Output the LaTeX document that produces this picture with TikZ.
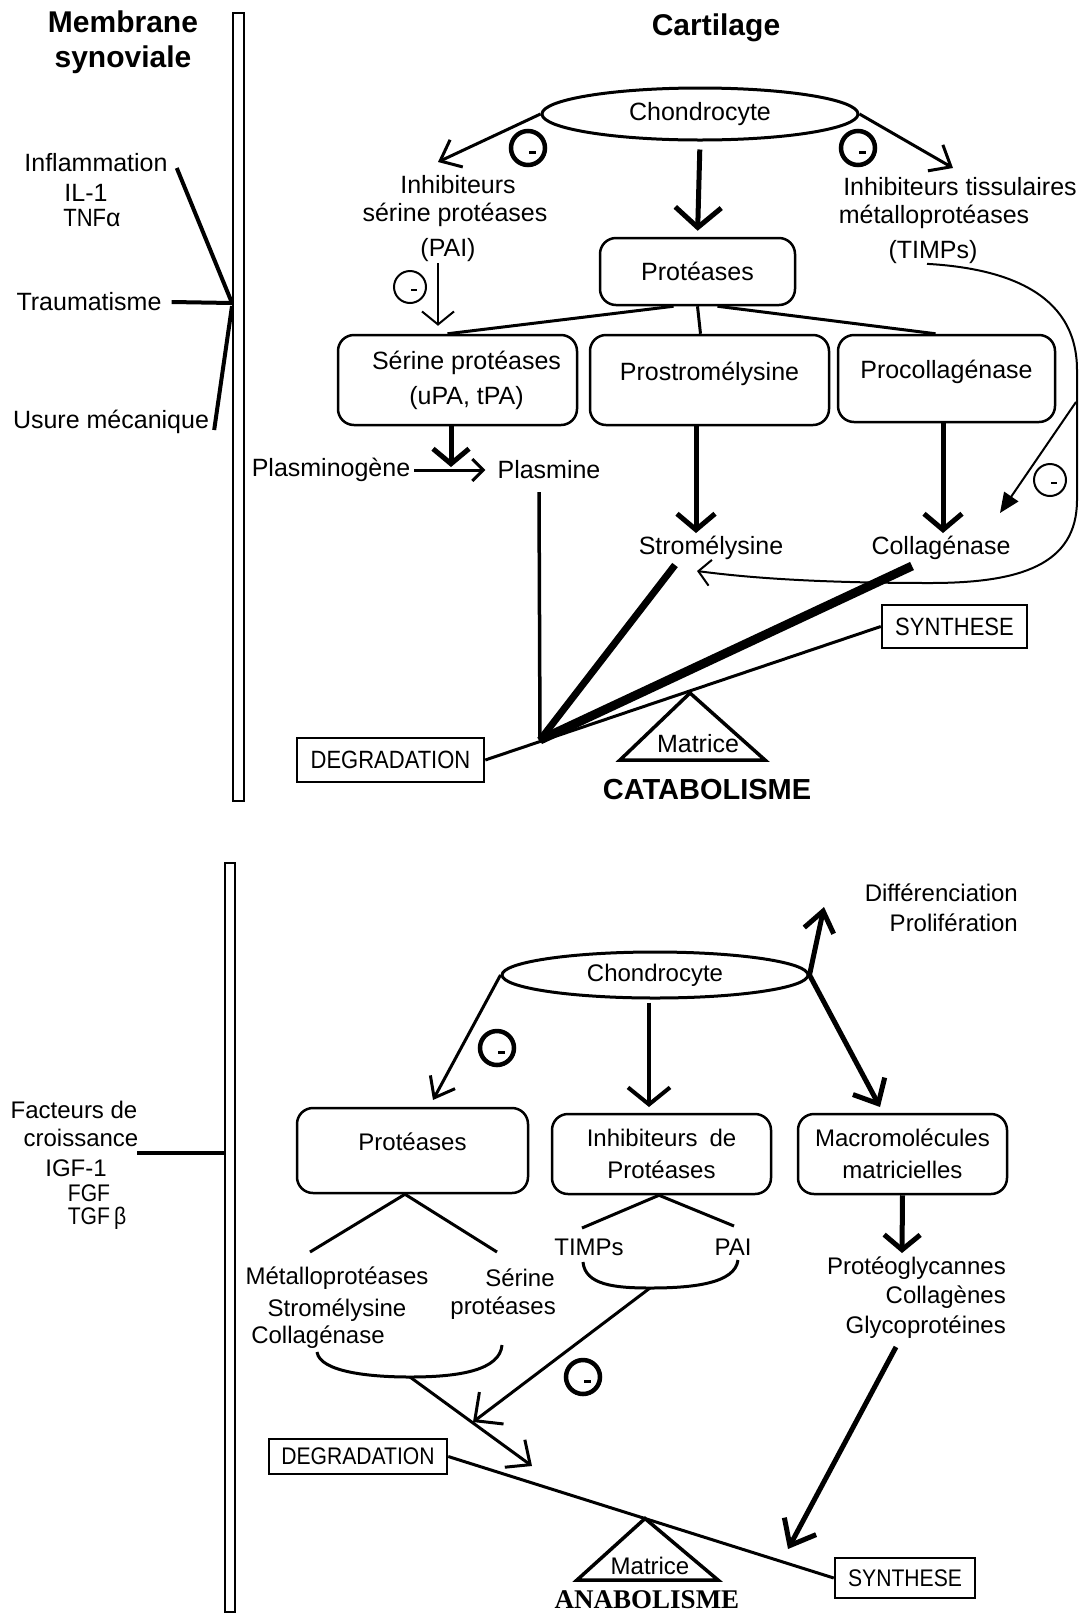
\documentclass[tikz,border=0pt]{standalone}
\usepackage{fontspec}
\setmainfont{Liberation Sans}
\newfontfamily\serifbold{Liberation Serif}
\newfontfamily\condf[FakeStretch=0.88]{Liberation Sans}
\usetikzlibrary{arrows.meta,shapes.geometric}
\begin{document}
\begin{tikzpicture}[x=1pt,y=-1pt,
  every node/.style={inner sep=0pt, font=\fontsize{25}{30}\selectfont},
  sm/.style={font=\fontsize{24}{30}\selectfont},
  ttl/.style={font=\fontsize{30}{35}\selectfont\bfseries, align=center},
  rbox/.style={draw, line width=2.5pt, rounded corners=16pt, align=center},
  sbox/.style={draw, line width=2.5pt},
  ell/.style={ellipse, draw, line width=3pt},
  neg/.style={circle, draw, line width=4.5pt, minimum size=34pt,
     path picture={\draw[line width=3pt] ([shift={(1pt,-4pt)}]path picture bounding box.center) -- ++(7pt,0);}},
  negt/.style={circle, draw, line width=2pt, minimum size=32pt,
     path picture={\draw[line width=2pt] ([shift={(1pt,-3pt)}]path picture bounding box.center) -- ++(6pt,0);}},
  lw2/.style={line width=2pt}, lw3/.style={line width=3pt},
  lw4/.style={line width=4pt}, lw5/.style={line width=5pt},
  arF/.style={-{Triangle[length=20pt,width=17pt]}}
]
\useasboundingbox (0,0) rectangle (1086,1615);
\fill[white] (0,0) rectangle (1086,1615);

% ================= TOP (CATABOLISME) =================
\node[ttl] (memb) at (123,42) {Membrane\\synoviale};
\node[ttl] (cart) at (716,28) {Cartilage};

\node[draw, line width=2pt, minimum width=11pt, minimum height=788pt] (bar1) at (238.5,407) {};

\node (infl) at (96,163) {Inflammation};
\node (il1) at (86,193) {IL-1};
\node (tnf) at (92,218) {{\condf TNF}α};
\node (trau) at (89,302) {Traumatisme};
\node (usur) at (111,422) {Usure mécanique};

\coordinate (j1) at (bar1.west |- 0,303);
\draw[lw4] ([shift={(9pt,-5pt)}]infl.east) -- (j1);
\draw[lw4] ([xshift=10pt]trau.east) -- (j1);
\draw[lw4] ([shift={(5pt,-8pt)}]usur.east) -- ([yshift=-3pt]j1);

\node[ell, minimum width=316pt, minimum height=52pt] (ch1) at (700,114) {Chondrocyte};

\node (isp1) at (458,185) {Inhibiteurs};
\node (isp2) at (455,215) {sérine protéases};
\node (pai1) at (448,250) {(PAI)};
\node (itm1) at (960,187) {Inhibiteurs tissulaires};
\node (itm2) at (934,217) {métalloprotéases};
\node (timp1) at (933,252) {(TIMPs)};

\coordinate (t1) at (438,162);
\coordinate (t2) at (953,168);
\draw[lw3, -{Straight Barb[length=18pt,width=30pt]}] (ch1.west) -- (t1);
\draw[lw3, -{Straight Barb[length=18pt,width=30pt]}] (ch1.east) -- (t2);
\node[neg] (m1) at (528,148) {};
\node[neg] (m2) at (858,148) {};

\node[rbox, minimum width=195pt, minimum height=67pt] (prot1) at (697.5,271.5) {Protéases};
\draw[lw5, -{Straight Barb[length=20pt,width=46pt]}, shorten <=8pt, shorten >=6pt] (ch1.south) -- (prot1.north);

\node[rbox, font=\fontsize{25}{35}\selectfont, minimum width=239pt, minimum height=90pt] (ser) at (457.5,380) {\hspace*{18pt}Sérine protéases\\\hspace*{18pt}(uPA, tPA)};
\node[rbox, minimum width=239pt, minimum height=90pt] (pros) at (709.5,380) {Prostromélysine\\[-12pt]\mbox{}};
\node[rbox, minimum width=217pt, minimum height=87pt] (proc) at (946.5,378.5) {Procollagénase\\[-12pt]\mbox{}};

\draw[lw3] ([xshift=-24pt]prot1.south) -- ([xshift=-10pt]ser.north);
\draw[lw3] (prot1.south) -- ([xshift=-9pt]pros.north);
\draw[lw3] ([xshift=20pt]prot1.south) -- ([xshift=-11pt]proc.north);

% PAI inhibition
\coordinate (p0) at (438,263);
\draw[lw2, -{Straight Barb[length=13pt,width=32pt]}, shorten >=8pt] (p0) -- (ser.north -| p0);
\node[negt] (m3) at (410,287) {};

% plasmin
\node (plg) at (331,470) {Plasminogène};
\node (plm) at (549,470) {Plasmine};
\coordinate (t3) at (451,467);
\draw[lw5, -{Straight Barb[length=15pt,width=36pt]}] (ser.south -| t3) -- (t3);
\draw[lw3, -{Straight Barb[length=11pt,width=22pt]}, shorten <=4pt, shorten >=12pt] (plg.east) -- (plm.west);

\node (strm) at (711,548) {Stromélysine};
\node (coll) at (941,548) {Collagénase};
\coordinate (t4) at (696,533);
\coordinate (t5) at (943,533);
\draw[lw5, -{Straight Barb[length=16pt,width=38pt]}] (pros.south -| t4) -- (t4);
\draw[lw5, -{Straight Barb[length=16pt,width=38pt]}] (proc.south -| t5) -- (t5);

% convergence to degradation
\coordinate (cv) at (540,740);
\coordinate (pl1) at (539,492);
\coordinate (s1) at (675,565);
\coordinate (c1) at (912,566);
\draw[line width=3.5pt] (pl1) -- (cv);
\draw[line width=7pt] (s1) -- (cv);
\draw[line width=9pt] (c1) -- (cv);

% TIMPs feedback
\coordinate (t6) at (697,571);
\draw[lw2, -{Straight Barb[length=12pt,width=26pt]}] ([xshift=-6pt]timp1.south) .. controls (1000,268) and (1077,290) .. (1077,370) -- (1077,500) .. controls (1077,565) and (1020,583) .. (930,583) .. controls (820,583) and (750,578) .. (t6);
\coordinate (c7) at (1076,402);
\coordinate (t7) at (1000,513);
\draw[lw2, arF] (c7) -- (t7);
\node[negt] (m6) at (1050,480) {};

% balance (top)
\node[sbox, font=\condf\fontsize{25}{28}\selectfont, minimum width=187pt, minimum height=44pt] (deg1) at (390.5,760) {DEGRADATION};
\node[sbox, font=\condf\fontsize{25}{28}\selectfont, minimum width=145pt, minimum height=43pt] (syn1) at (954.5,626.5) {SYNTHESE};
\draw[lw3] (deg1.east) -- (syn1.west);
\draw[line width=3.5pt, line join=miter] (690,693) -- (765,760) -- (620,760) -- cycle;
\node (mat1) at (698,744) {Matrice};
\node[font=\fontsize{29}{34}\selectfont\bfseries] (cata) at (707,790) {CATABOLISME};

% ================= BOTTOM (ANABOLISME) =================
\node[draw, line width=2pt, minimum width=10pt, minimum height=749pt] (bar2) at (230,1237.5) {};
\node[sm] (fac) at (74,1110) {Facteurs de};
\node[sm] (cro) at (81,1138) {croissance};
\node[sm] (igf) at (76,1168) {IGF-1};
\node[font=\condf\fontsize{24}{30}\selectfont] (fgf) at (89,1193) {FGF};
\node[font=\condf\fontsize{24}{30}\selectfont] (tgf) at (97,1218) {TGF\,β};
\coordinate (f1) at (137,1153);
\draw[lw4] (f1) -- (f1 -| bar2.west);

\node[ell, sm, minimum width=306pt, minimum height=46pt] (ch2) at (655,975) {Chondrocyte};

\node[sm, anchor=east] (diff) at (1018,893) {Différenciation};
\node[sm, anchor=east] (prol) at (1018,923) {Prolifération};

\node[rbox, sm, minimum width=231pt, minimum height=85pt] (prot2) at (412.5,1150.5) {Protéases\\[-12pt]\mbox{}};
\node[rbox, font=\fontsize{24}{32}\selectfont, minimum width=219pt, minimum height=80pt] (inh) at (661.5,1154) {Inhibiteurs\enspace de\\Protéases};
\node[rbox, font=\fontsize{24}{32}\selectfont, minimum width=209pt, minimum height=80pt] (mac) at (902.5,1154) {Macromolécules\\matricielles};

\coordinate (t8) at (433,1100);
\coordinate (t9) at (649,1107);
\coordinate (t10) at (880,1107);
\coordinate (t11) at (824,907);
\draw[lw3, -{Straight Barb[length=18pt,width=28pt]}] (ch2.west) -- (t8);
\draw[lw4, -{Straight Barb[length=17pt,width=42pt]}, shorten <=3pt] (ch2.south -| t9) -- (t9);
\draw[lw5, -{Straight Barb[length=20pt,width=36pt]}] (ch2.east) -- (t10);
\draw[lw5, -{Straight Barb[length=20pt,width=30pt]}] (ch2.east) -- (t11);
\node[neg] (m4) at (497,1048) {};

% fan lines
\coordinate (f2) at (310,1252);
\coordinate (f3) at (497,1252);
\coordinate (f4) at (582,1228);
\coordinate (f5) at (734,1226);
\draw[lw3] ([xshift=-7.5pt]prot2.south) -- (f2);
\draw[lw3] ([xshift=-7.5pt]prot2.south) -- (f3);
\draw[lw3] ([xshift=-2.5pt]inh.south) -- (f4);
\draw[lw3] ([xshift=-2.5pt]inh.south) -- (f5);

\node[sm] (met) at (337,1278) {Métalloprotéases};
\node[sm] (str2) at (337,1310) {Stromélysine};
\node[sm] (col2) at (318,1337) {Collagénase};
\node[sm] (ser2) at (520,1278) {Sérine};
\node[sm, anchor=east] (pro2) at (556,1308) {protéases};
\node[sm] (tim2) at (589,1247) {TIMPs};
\node[sm] (pai2) at (733,1247) {PAI};

% braces
\coordinate (b1) at (650,1288);
\draw[lw3] (583,1262) .. controls (585,1285) and (615,1288) .. (b1) .. controls (695,1288) and (735,1283) .. (738,1260);
\coordinate (b2) at (410,1377);
\draw[lw3] (317,1352) .. controls (320,1372) and (370,1377) .. (b2) .. controls (460,1377) and (500,1370) .. (502,1345);

\coordinate (t12) at (473,1422);
\coordinate (t13) at (532,1466);
\draw[lw3, -{Straight Barb[length=21pt,width=40pt]}] (b1) -- (t12);
\draw[lw3, -{Straight Barb[length=19pt,width=34pt]}] (b2) -- (t13);
\node[neg] (m5) at (583,1377) {};

% right column
\coordinate (t14) at (902,1253);
\draw[lw5, -{Straight Barb[length=15pt,width=36pt]}] (mac.south) -- (t14);
\node[sm, anchor=east] (pg) at (1006,1268) {Protéoglycannes};
\node[sm, anchor=east] (cg) at (1006,1297) {Collagènes};
\node[sm, anchor=east] (gp) at (1006,1327) {Glycoprotéines};
\coordinate (g1) at (896,1347);
\coordinate (t15) at (788,1549);
\draw[lw5, -{Straight Barb[length=22pt,width=36pt]}] (g1) -- (t15);

% balance (bottom)
\node[sbox, font=\condf\fontsize{24}{28}\selectfont, minimum width=178pt, minimum height=35pt] (deg2) at (358,1456.5) {DEGRADATION};
\node[sbox, font=\condf\fontsize{24}{28}\selectfont, minimum width=140pt, minimum height=40pt] (syn2) at (905,1578) {SYNTHESE};
\draw[lw3] (deg2.east) -- (syn2.west);
\draw[line width=3.5pt, line join=miter] (645,1518.5) -- (718,1580) -- (577,1580) -- cycle;
\node[sm] (mat2) at (650,1566) {Matrice};
\node[font=\serifbold\bfseries\fontsize{27}{32}\selectfont] (ana) at (647,1600) {ANABOLISME};
\end{tikzpicture}
\end{document}
